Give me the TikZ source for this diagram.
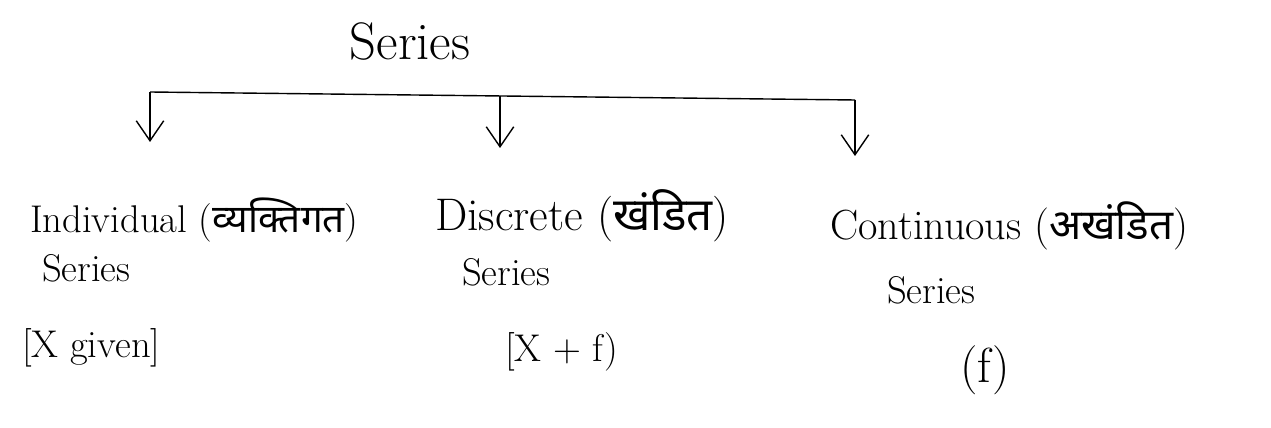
\documentclass[tikz,border=0pt]{standalone}
\usepackage{fontspec}
\newfontfamily\hindi[Script=Devanagari]{Noto Sans}
\usetikzlibrary{arrows.meta,positioning}

\begin{document}
\begin{tikzpicture}[x=0.02cm,y=-0.02cm,
    lbl/.style={font=\fontsize{22}{26}\selectfont,inner sep=1pt,anchor=west},
    big/.style={font=\fontsize{#1}{#1}\selectfont},
    arr/.style={-{Straight Barb[length=0.4cm,width=0.55cm]},thick}]
    \useasboundingbox (0,0) rectangle (1271,428);
    % Title
    \node[lbl,big=30,anchor=center] (top) at (410,42) {Series};
    % Bus and branches
    \coordinate (bL) at (150,92);
    \coordinate (bM) at (500,96);
    \coordinate (bR) at (855,100);
    \coordinate (tL) at (150,142);
    \coordinate (tM) at (500,148);
    \coordinate (tR) at (855,156);
    \draw[thick] (bL) -- (bR);
    \foreach \n in {L,M,R} {
        \draw[arr] (b\n) -- (t\n);
    }
    % Individual
    \node[lbl] (ind) at (28,220) {Individual ({\hindi व्यक्तिगत})};
    \node[lbl] (indS) at (40,268) {Series};
    \node[lbl] (indX) at (20,348) {[X given]};
    % Discrete
    \node[lbl,big=26] (dis) at (433,216) {Discrete ({\hindi खंडित})};
    \node[lbl] (disS) at (460,272) {Series};
    \node[lbl] (disX) at (503,352) {[X + f)};
    % Continuous
    \node[lbl,big=24] (con) at (828,226) {Continuous ({\hindi अखंडित})};
    \node[lbl] (conS) at (885,290) {Series};
    \node[lbl,big=28] (conX) at (958,370) {(f)};
\end{tikzpicture}
\end{document}
